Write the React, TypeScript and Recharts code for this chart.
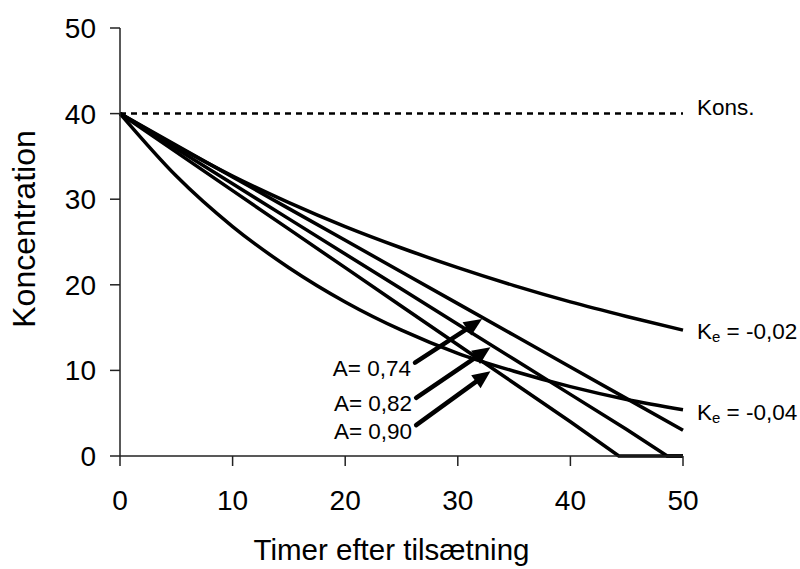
import React from "react";
import {
  LineChart, Line, XAxis, YAxis, ReferenceLine, ReferenceDot,
} from "recharts";

if (typeof document !== "undefined") document.body.style.margin = "0";

const FONT = "'Liberation Sans', Arial, Helvetica, sans-serif";

// timer (hours) and concentrations
const hours = [0, 5, 10, 15, 20, 25, 30, 35, 40, 45, 50];
const kons = [40, 40, 40, 40, 40, 40, 40, 40, 40, 40, 40];
const keSlow = [40, 36.2, 32.7, 29.6, 26.8, 24.3, 22.0, 19.9, 18.0, 16.3, 14.7];
const keFast = [40, 32.7, 26.8, 22.0, 18.0, 14.7, 12.0, 9.9, 8.1, 6.6, 5.4];
const a074 = [40, 36.3, 32.6, 28.9, 25.2, 21.5, 17.8, 14.1, 10.4, 6.7, 3.0];
const a082Hours = [0, 5, 10, 15, 20, 25, 30, 35, 40, 45, 48.6, 50];
const a082 = [40, 35.9, 31.8, 27.7, 23.6, 19.5, 15.4, 11.3, 7.2, 3.1, 0, 0];
const a090Hours = [0, 5, 10, 15, 20, 25, 30, 35, 40, 44.3, 45, 50];
const a090 = [40, 35.5, 31, 26.5, 22, 17.5, 13, 8.5, 4.0, 0, 0, 0];

const xTicks = [0, 10, 20, 30, 40, 50];
const yTicks = [0, 10, 20, 30, 40, 50];

// arrows: tail (label side) -> head (pointing at the line)
const arrows = [
  { label: "A= 0,74", from: { x: 26.2, y: 10.9 }, to: { x: 32.15, y: 16.0 } },
  { label: "A= 0,82", from: { x: 26.3, y: 6.8 }, to: { x: 32.9, y: 12.7 } },
  { label: "A= 0,90", from: { x: 26.3, y: 3.6 }, to: { x: 32.9, y: 9.9 } },
];

const zip = (xs: number[], ys: number[]) => xs.map((t, i) => ({ t, c: ys[i] }));

function ArrowShape(props: any) {
  const { x1, y1, x2, y2 } = props;
  const dx = x2 - x1;
  const dy = y2 - y1;
  const len = Math.sqrt(dx * dx + dy * dy);
  const ux = dx / len;
  const uy = dy / len;
  const head = 18;
  const half = 8;
  const bx = x2 - ux * head;
  const by = y2 - uy * head;
  const pts = [
    `${x2},${y2}`,
    `${bx - uy * half},${by + ux * half}`,
    `${bx + uy * half},${by - ux * half}`,
  ].join(" ");
  return (
    <g>
      <line x1={x1} y1={y1} x2={bx + ux * 2} y2={by + uy * 2} stroke="#000" strokeWidth={4.5} strokeLinecap="round" />
      <polygon points={pts} fill="#000" />
    </g>
  );
}

function tag(text: React.ReactNode, dx: number, dy: number, anchor: "start" | "end" = "start") {
  return (p: any) => {
    const vb = p.viewBox || {};
    const x = (vb.x || 0) + (vb.width || 0) / 2 + dx;
    const y = (vb.y || 0) + (vb.height || 0) / 2 + dy;
    return (
      <text x={x} y={y} textAnchor={anchor} dominantBaseline="central" fontFamily={FONT} fontSize={22.5} fill="#000">
        {text}
      </text>
    );
  };
}

const keText = (v: string) => (
  <>
    <tspan>K</tspan>
    <tspan dy={5} fontSize={15}>e</tspan>
    <tspan dy={-5}>{` = ${v}`}</tspan>
  </>
);

export default function App() {
  const tickStyle = { fill: "#000", fontSize: 28, fontFamily: FONT };
  return (
    <div style={{ width: 800, height: 569, background: "#fff" }}>
      <LineChart width={800} height={569} margin={{ top: 28, right: 117, bottom: 83, left: 60 }}>
        <XAxis
          type="number"
          dataKey="t"
          domain={[0, 50]}
          ticks={xTicks}
          tick={tickStyle}
          tickSize={10}
          tickMargin={24}
          stroke="#222"
          strokeWidth={1.5}
          allowDuplicatedCategory={false}
          label={(p: any) => {
            const vb = p.viewBox;
            return (
              <text x={vb.x + vb.width / 2 - 10} y={560} textAnchor="middle" fontFamily={FONT} fontSize={29.5} fill="#000">
                Timer efter tilsætning
              </text>
            );
          }}
        />
        <YAxis
          type="number"
          domain={[0, 50]}
          ticks={yTicks}
          width={60}
          tick={tickStyle}
          tickSize={10}
          tickMargin={14}
          stroke="#222"
          strokeWidth={1.5}
          label={(p: any) => {
            const vb = p.viewBox;
            const cy = vb.y + vb.height / 2 - 13;
            return (
              <text x={35} y={cy} transform={`rotate(-90 35 ${cy})`} textAnchor="middle" fontFamily={FONT} fontSize={32} fill="#000">
                Koncentration
              </text>
            );
          }}
        />
        <Line data={zip(hours, kons)} dataKey="c" type="linear" stroke="#000" strokeWidth={2.5} strokeDasharray="6 5" dot={false} isAnimationActive={false} />
        <Line data={zip(hours, keSlow)} dataKey="c" type="monotone" stroke="#000" strokeWidth={3.5} dot={false} isAnimationActive={false} />
        <Line data={zip(hours, keFast)} dataKey="c" type="monotone" stroke="#000" strokeWidth={3.5} dot={false} isAnimationActive={false} />
        <Line data={zip(hours, a074)} dataKey="c" type="linear" stroke="#000" strokeWidth={3.5} dot={false} isAnimationActive={false} />
        <Line data={zip(a082Hours, a082)} dataKey="c" type="linear" stroke="#000" strokeWidth={3.5} dot={false} isAnimationActive={false} />
        <Line data={zip(a090Hours, a090)} dataKey="c" type="linear" stroke="#000" strokeWidth={3.5} dot={false} isAnimationActive={false} />

        {arrows.map((a) => (
          <ReferenceLine key={a.label} segment={[a.from, a.to]} shape={ArrowShape} ifOverflow="visible" />
        ))}
        {arrows.map((a) => (
          <ReferenceDot key={"t" + a.label} x={a.from.x} y={a.from.y} r={0} fill="none" stroke="none" ifOverflow="visible"
            label={tag(a.label, -4, 6, "end")} />
        ))}
        <ReferenceDot x={50} y={40} r={0} fill="none" stroke="none" ifOverflow="visible" label={tag("Kons.", 14, -6)} />
        <ReferenceDot x={50} y={keSlow[keSlow.length - 1]} r={0} fill="none" stroke="none" ifOverflow="visible" label={tag(keText("-0,02"), 14, 1)} />
        <ReferenceDot x={50} y={keFast[keFast.length - 1]} r={0} fill="none" stroke="none" ifOverflow="visible" label={tag(keText("-0,04"), 14, 2)} />
      </LineChart>
    </div>
  );
}
